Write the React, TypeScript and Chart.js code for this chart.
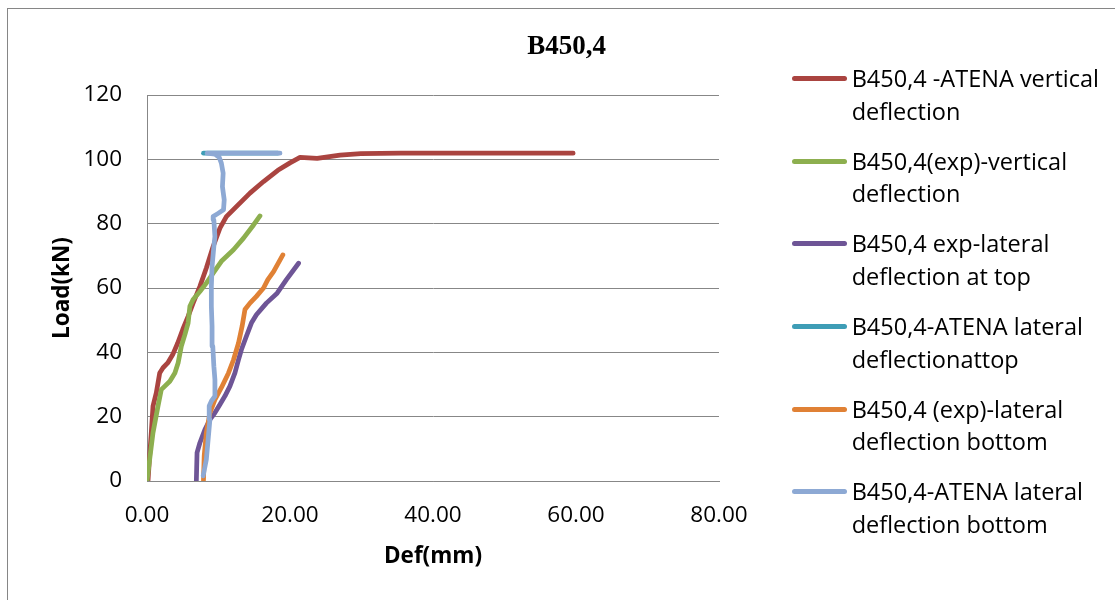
import React, { useEffect, useRef } from "react";
import { Chart, registerables } from "chart.js";

Chart.register(...registerables);

const chartTitle = "B450,4";
const xAxisTitle = "Def(mm)";
const yAxisTitle = "Load(kN)";
const xTickValues = [0, 20, 40, 60, 80];
const yTickValues = [0, 20, 40, 60, 80, 100, 120];

const legendLines = [
  ["B450,4 -ATENA vertical", "deflection"],
  ["B450,4(exp)-vertical", "deflection"],
  ["B450,4 exp-lateral", "deflection at top"],
  ["B450,4-ATENA lateral", "deflectionattop"],
  ["B450,4 (exp)-lateral", "deflection bottom"],
  ["B450,4-ATENA lateral", "deflection bottom"],
];

const seriesColors = ["#AA4440", "#8DAF4F", "#6E5596", "#3E9DB6", "#E08135", "#8DA9D4"];

// B450,4 -ATENA vertical deflection
const atenaVertDef = [0.14, 0.37, 0.6, 0.84, 1.3, 1.78, 2.24, 2.9, 3.6, 4.3, 5.0, 5.75, 6.45, 7.4, 8.3, 9.25, 10.2, 11.1, 12.5, 14.4, 16.3, 18.3, 20.0, 21.4, 23.8, 27.0, 29.9, 35.5, 45.0, 59.6];
const atenaVertLoad = [0, 7.8, 15, 23.3, 27.4, 33.6, 35.2, 36.7, 39.3, 42.9, 47.1, 51.2, 55.3, 60.5, 66.2, 72.9, 78.6, 82.2, 85.3, 89.5, 93.1, 96.6, 98.9, 100.6, 100.3, 101.3, 101.8, 101.9, 101.9, 101.9];

// B450,4(exp)-vertical deflection
const expVertDef = [0, 0.37, 0.84, 1.54, 2.0, 2.5, 3.2, 3.9, 4.35, 4.8, 5.3, 5.75, 6.0, 6.45, 7.4, 8.3, 9.25, 10.4, 12.1, 13.5, 14.9, 15.8];
const expVertLoad = [0, 6.7, 15, 23.3, 28.4, 29.5, 31, 33.6, 36.7, 41.9, 45.5, 49.1, 54.3, 56.4, 58.9, 61.5, 64.6, 68.3, 71.9, 75.5, 79.6, 82.4];

// B450,4 exp-lateral deflection at top
const expLatTopDef = [6.9, 7.0, 7.4, 8.1, 8.8, 9.5, 10.2, 10.9, 11.6, 12.3, 12.8, 13.2, 13.9, 14.6, 15.3, 16.7, 18.2, 19.5, 21.2];
const expLatTopLoad = [0, 8.8, 11.9, 16, 19.1, 21.2, 23.8, 26.4, 29.5, 33.6, 37.7, 40.8, 45, 49.1, 51.7, 55.3, 58.4, 62.6, 67.7];

// B450,4-ATENA lateral deflectionattop
const atenaLatTopDef = [7.9, 10.0, 14.0, 18.3];
const atenaLatTopLoad = [101.9, 101.9, 101.9, 101.9];

// B450,4 (exp)-lateral deflection bottom
const expLatBotDef = [7.9, 8.0, 8.3, 8.8, 9.5, 10.4, 11.4, 12.1, 12.8, 13.3, 13.7, 14.4, 15.3, 16.3, 16.9, 17.7, 19.0];
const expLatBotLoad = [0.3, 7.8, 15, 21.2, 25.3, 29, 33.6, 37.7, 42.9, 48.1, 53.3, 55.3, 57.4, 60, 62.6, 65.1, 70.3];

// B450,4-ATENA lateral deflection bottom
const atenaLatBotDef = [7.85, 8.3, 8.55, 8.8, 8.7, 9.0, 9.5, 9.5, 9.35, 9.2, 9.1, 9.0, 9.0, 9.1, 9.35, 9.5, 9.35, 9.25, 9.95, 10.7, 10.8, 10.55, 10.65, 10.4, 10.1, 9.5, 8.4, 12.0, 18.6];
const atenaLatBotLoad = [1.6, 6.7, 12.9, 19.1, 23.3, 24.8, 26.4, 31.5, 35.7, 41.9, 48.1, 54.3, 60.5, 66.7, 72.9, 76.0, 81.2, 82.2, 83.2, 84.3, 87.4, 91.5, 95.7, 98.8, 100.6, 101.6, 101.9, 101.9, 101.9];

const seriesDefs = [atenaVertDef, expVertDef, expLatTopDef, atenaLatTopDef, expLatBotDef, atenaLatBotDef];
const seriesLoads = [atenaVertLoad, expVertLoad, expLatTopLoad, atenaLatTopLoad, expLatBotLoad, atenaLatBotLoad];

const FONT = "'Open Sans', sans-serif";
const GRID = "#878787";

export default function App() {
  const canvasRef = useRef<HTMLCanvasElement | null>(null);

  useEffect(() => {
    const canvas = canvasRef.current;
    if (!canvas) return;
    Chart.defaults.font.family = FONT;
    const n = seriesDefs.length;
    const datasets = seriesDefs.map((defs, i) => ({
      label: legendLines[i].join(" "),
      data: defs.map((x, j) => ({ x, y: seriesLoads[i][j] })),
      showLine: true,
      borderColor: seriesColors[i],
      backgroundColor: seriesColors[i],
      borderWidth: 4.75,
      borderCapStyle: "round" as const,
      borderJoinStyle: "round" as const,
      pointRadius: 0,
      pointHoverRadius: 0,
      tension: 0,
      order: n - 1 - i,
    }));
    const chart = new Chart(canvas, {
      type: "scatter",
      data: { datasets },
      options: {
        animation: false,
        responsive: false,
        maintainAspectRatio: false,
        events: [],
        layout: { padding: { left: 0, top: 95, right: 396, bottom: 0 } },
        plugins: {
          legend: { display: false },
          tooltip: { enabled: false },
          title: { display: false },
        },
        scales: {
          x: {
            type: "linear",
            min: 0,
            max: 80,
            afterBuildTicks: (s: any) => {
              s.ticks = xTickValues.map((v) => ({ value: v }));
            },
            afterFit: (s: any) => {
              s.height = 119;
            },
            ticks: {
              callback: (v: any) => Number(v).toFixed(2),
              padding: 21.5,
              color: "#000",
              font: { size: 22.5, family: FONT },
              maxRotation: 0,
              autoSkip: false,
            },
            grid: { display: false, drawTicks: false },
            border: { display: true, color: GRID, width: 1 },
            title: {
              display: true,
              text: xAxisTitle,
              color: "#000",
              font: { size: 22.5, weight: "bold", family: FONT },
              padding: { top: 0, bottom: 30 },
            },
          },
          y: {
            type: "linear",
            min: 0,
            max: 120,
            afterBuildTicks: (s: any) => {
              s.ticks = yTickValues.map((v) => ({ value: v }));
            },
            afterFit: (s: any) => {
              s.width = 147;
            },
            ticks: {
              padding: 25,
              color: "#000",
              font: { size: 22.5, family: FONT },
              autoSkip: false,
            },
            grid: { display: true, color: GRID, lineWidth: 1, drawTicks: false },
            border: { display: true, color: GRID, width: 1 },
            title: {
              display: true,
              text: yAxisTitle,
              color: "#000",
              font: { size: 22.5, weight: "bold", family: FONT },
              padding: { top: 49, bottom: 0 },
            },
          },
        },
      },
    } as any);
    return () => chart.destroy();
  }, []);

  return (
    <div style={{ position: "fixed", left: 0, top: 0, width: 1115, height: 600, overflow: "hidden", background: "#fff" }}>
      <div
        style={{
          position: "absolute",
          left: 7,
          top: 8,
          width: 2000,
          height: 2000,
          borderLeft: "1px solid #868686",
          borderTop: "1px solid #868686",
        }}
      />
      <canvas ref={canvasRef} width={1115} height={600} style={{ position: "absolute", left: 0, top: 0, width: 1115, height: 600 }} />
      <div
        style={{
          position: "absolute",
          left: 566.7,
          top: 32.4,
          transform: "translateX(-50%)",
          fontFamily: "'Liberation Serif', serif",
          fontWeight: "bold",
          fontSize: 27,
          lineHeight: "27px",
          whiteSpace: "nowrap",
          color: "#000",
        }}
      >
        {chartTitle}
      </div>
      {legendLines.map((lines, i) => (
        <React.Fragment key={i}>
          <div
            style={{
              position: "absolute",
              left: 791.7,
              top: 78.3 + 82.7 * i - 2.5,
              width: 55,
              height: 5,
              borderRadius: 2.5,
              background: seriesColors[i],
            }}
          />
          <div
            style={{
              position: "absolute",
              left: 851.7,
              top: 61.8 + 82.7 * i,
              fontFamily: FONT,
              fontSize: 23.5,
              lineHeight: "32.7px",
              whiteSpace: "nowrap",
              color: "#000",
            }}
          >
            {lines[0]}
            <br />
            {lines[1]}
          </div>
        </React.Fragment>
      ))}
    </div>
  );
}
